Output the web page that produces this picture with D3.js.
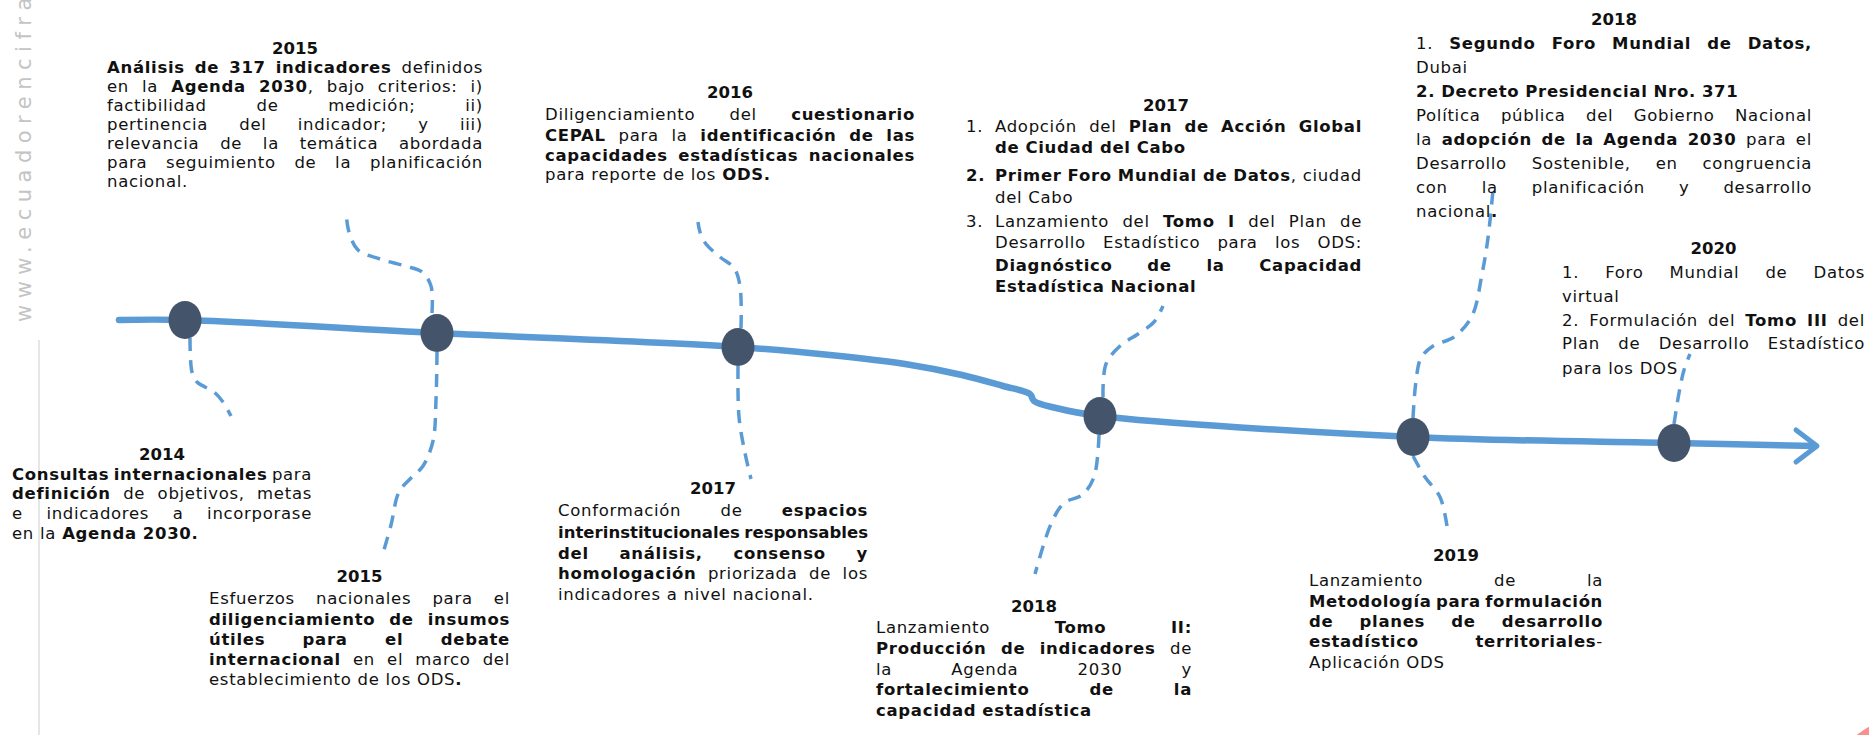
<!DOCTYPE html>
<html>
<head>
<meta charset="utf-8">
<script src="https://cdn.jsdelivr.net/npm/d3@7"></script>
<style>
  html, body { margin: 0; padding: 0; background: #fff; }
  svg { display: block; }
  text { font-family: "Century Gothic", "DejaVu Sans", sans-serif; }
</style>
</head>
<body>
<div id="chart"></div>
<script>
// ---- DATA ----
// milestones on the time line (left to right)
const milestones = ["2014", "2015", "2016", "2017", "2018", "2020"];

// text blocks: year + lines ("**" toggles bold, "~" = last line of a paragraph, "\t" splits list number)
const blockYears = ["2015", "2016", "2017", "2018", "2020", "2014", "2015", "2017", "2018", "2019"];

const text2015top = [
  "**Análisis de 317 indicadores** definidos",
  "en la **Agenda 2030**, bajo criterios: i)",
  "factibilidad de medición; ii)",
  "pertinencia del indicador; y iii)",
  "relevancia de la temática abordada",
  "para seguimiento de la planificación",
  "~nacional."
];
const text2016 = [
  "Diligenciamiento del **cuestionario**",
  "**CEPAL** para la **identificación de las**",
  "**capacidades estadísticas nacionales**",
  "~para reporte de los **ODS.**"
];
const text2017top = [
  "1.\tAdopción del **Plan de Acción Global**",
  "~\t**de Ciudad del Cabo**",
  "**2.**\t**Primer Foro Mundial de Datos**, ciudad",
  "~\tdel Cabo",
  "3.\tLanzamiento del **Tomo I** del Plan de",
  "\tDesarrollo Estadístico para los ODS:",
  "\t**Diagnóstico de la Capacidad**",
  "~\t**Estadística Nacional**"
];
const text2018top = [
  "1. **Segundo Foro Mundial de Datos,**",
  "~Dubai",
  "~**2. Decreto Presidencial Nro. 371**",
  "Política pública del Gobierno Nacional",
  "la **adopción de la Agenda 2030** para el",
  "Desarrollo Sostenible, en congruencia",
  "con la planificación y desarrollo",
  "~nacional**.**"
];
const text2020 = [
  "1. Foro Mundial de Datos",
  "~virtual",
  "2. Formulación del **Tomo III** del",
  "Plan de Desarrollo Estadístico",
  "~para los DOS"
];
const text2014 = [
  "**Consultas internacionales** para",
  "**definición** de objetivos, metas",
  "e indicadores a incorporase",
  "~en la **Agenda 2030.**"
];
const text2015bottom = [
  "Esfuerzos nacionales para el",
  "**diligenciamiento de insumos**",
  "**útiles para el debate**",
  "**internacional** en el marco del",
  "~establecimiento de los ODS**.**"
];
const text2017bottom = [
  "Conformación de **espacios**",
  "**interinstitucionales responsables**",
  "**del análisis, consenso y**",
  "**homologación** priorizada de los",
  "~indicadores a nivel nacional."
];
const text2018bottom = [
  "Lanzamiento **Tomo II:**",
  "**Producción de indicadores** de",
  "la Agenda 2030 y",
  "**fortalecimiento de la**",
  "~**capacidad estadística**"
];
const text2019 = [
  "Lanzamiento de la",
  "**Metodología para formulación**",
  "**de planes de desarrollo**",
  "**estadístico territoriales**-",
  "~Aplicación ODS"
];
const blockTexts = [text2015top, text2016, text2017top, text2018top, text2020,
                    text2014, text2015bottom, text2017bottom, text2018bottom, text2019];

// ---- LAYOUT ----
const width = 1869, height = 735;
const fontSize = 16.5, letterSp = 0.7;

// node centres on the line
const nodeX = [185, 437, 738, 1100, 1413, 1674];
const nodeY = [320, 333, 347, 416, 437, 443];

// extra shaping points of the time line
const lineX = [119, 185, 437, 738, 830, 905, 962, 1003, 1030, 1034, 1056, 1100, 1413, 1674, 1815];
const lineY = [320, 320, 333, 347, 355, 364, 375, 386, 394, 401, 408, 416, 437, 443, 446];

// dashed connectors (x list, y list)
const connectors = [
  [[190, 192, 197, 205, 214, 223, 231], [338, 372, 382, 387, 392, 402, 416]],
  [[432, 431, 422, 405, 380, 358, 349, 346], [313, 286, 272, 266, 259, 250, 232, 212]],
  [[437, 436, 433, 423, 411, 399, 391, 384], [352, 400, 441, 466, 478, 492, 525, 550]],
  [[741, 740, 734, 720, 706, 700, 698], [328, 286, 268, 257, 244, 232, 222]],
  [[738, 739, 745, 751], [366, 417, 453, 479]],
  [[1103, 1106, 1120, 1138, 1154, 1163], [397, 364, 346, 334, 322, 306]],
  [[1099, 1094, 1082, 1064, 1051, 1035], [435, 477, 495, 503, 524, 574]],
  [[1413, 1416, 1421, 1433, 1454, 1472, 1482, 1488, 1493], [418, 381, 358, 346, 337, 316, 274, 238, 190]],
  [[1413, 1425, 1440, 1447], [456, 477, 497, 526]],
  [[1674, 1679, 1684, 1690], [424, 393, 370, 354]]
];

// text block geometry: left, right, year y, list-number x, line centres
const blocks = [
  {x0: 107,  x1: 483,  yy: 48,  ly: [67, 86, 105, 124, 143, 162, 181]},
  {x0: 545,  x1: 915,  yy: 92,  ly: [114, 135, 155, 174]},
  {x0: 995,  x1: 1362, yy: 105, nx: 966, yc: 1166, ly: [126, 147, 175, 197, 221, 242, 265, 286]},
  {x0: 1416, x1: 1812, yy: 19,  ly: [43, 67, 91, 115, 139, 163, 187, 211]},
  {x0: 1562, x1: 1865, yy: 248, ly: [272, 296, 320, 343, 368]},
  {x0: 12,   x1: 312,  yy: 454, ly: [474, 493, 513, 533]},
  {x0: 209,  x1: 510,  yy: 576, ly: [598, 619, 639, 659, 679]},
  {x0: 558,  x1: 868,  yy: 488, ly: [510, 532, 553, 573, 594]},
  {x0: 876,  x1: 1192, yy: 606, ly: [627, 648, 669, 689, 710, 731]},
  {x0: 1309, x1: 1603, yy: 555, ly: [580, 601, 621, 641, 662]}
];

const lineColor = "#5B9BD5", nodeColor = "#44546A", textColor = "#111";

// ---- SVG ----
let svg = d3.select("#chart").append("svg")
    .attr("width", width)
    .attr("height", height);

// watermark + thin guide on the left
svg.append("text")
    .attr("transform", "translate(31,322) rotate(-90)")
    .attr("font-size", 21)
    .attr("fill", "#c4c4c4")
    .style("letter-spacing", "6.5px")
    .text("www.ecuadorencifras");

svg.append("line")
    .attr("x1", 39).attr("x2", 39)
    .attr("y1", 340).attr("y2", height)
    .attr("stroke", "#dedede")
    .attr("stroke-width", 1.5);

// pink corner decoration
svg.append("circle")
    .attr("cx", 1930).attr("cy", 830).attr("r", 120)
    .attr("fill", "#f89090");

// dashed connectors
let curve = d3.line().curve(d3.curveCatmullRom.alpha(0.5));

svg.selectAll(".connector")
    .data(connectors)
    .enter()
    .append("path")
    .attr("class", "connector")
    .attr("d", c => curve(c[0].map((x, i) => [x, c[1][i]])))
    .attr("fill", "none")
    .attr("stroke", lineColor)
    .attr("stroke-width", 3.5)
    .attr("stroke-dasharray", "13,9");

// main time line
svg.append("path")
    .attr("d", curve(lineX.map((x, i) => [x, lineY[i]])))
    .attr("fill", "none")
    .attr("stroke", lineColor)
    .attr("stroke-width", 6.5)
    .attr("stroke-linecap", "round");

// arrow head
let tipX = lineX[lineX.length - 1], tipY = lineY[lineY.length - 1];
svg.append("path")
    .attr("d", d3.line()([[tipX - 19, tipY - 16], [tipX + 2, tipY], [tipX - 19, tipY + 16]]))
    .attr("fill", "none")
    .attr("stroke", lineColor)
    .attr("stroke-width", 5)
    .attr("stroke-linecap", "round")
    .attr("stroke-linejoin", "round");

// nodes
svg.selectAll(".node")
    .data(milestones)
    .enter()
    .append("ellipse")
    .attr("class", "node")
    .attr("cx", (d, i) => nodeX[i])
    .attr("cy", (d, i) => nodeY[i])
    .attr("rx", 16.5)
    .attr("ry", 19)
    .attr("fill", nodeColor);

// ---- TEXT ----
function parseLine(str) {
    let words = [], cur = null, fresh = true;
    str.split("**").forEach((seg, si) => {
        let bold = si % 2 === 1;
        seg.split(/(\s+)/).forEach(tok => {
            if (tok === "") return;
            if (/^\s+$/.test(tok)) { fresh = true; return; }
            if (fresh || !cur) { cur = []; words.push(cur); fresh = false; }
            cur.push({t: tok, b: bold});
        });
    });
    return words;
}

function drawRich(g, str, x0, x1, y, justify) {
    let words = parseLine(str);
    let t = g.append("text")
        .attr("y", y + 6)
        .attr("font-size", fontSize)
        .attr("fill", textColor)
        .style("letter-spacing", letterSp + "px");
    let wInfo = words.map(runs => ({
        spans: runs.map(r => t.append("tspan")
            .attr("font-weight", r.b ? "bold" : "normal")
            .text(r.t))
    }));
    let measure = () => wInfo.forEach(d => {
        d.w = d3.sum(d.spans, s => s.node().getComputedTextLength());
    });
    measure();
    let total = d3.sum(wInfo, d => d.w);
    let nChars = str.replace(/\*\*|\s/g, "").length;
    let minGap = 4.5 * (words.length - 1);
    if (justify && total + minGap > x1 - x0) {
        // squeeze the letter spacing so the line fits its column
        let ls = letterSp - (total + minGap - (x1 - x0)) / nChars;
        t.style("letter-spacing", ls + "px");
        measure();
        total = d3.sum(wInfo, d => d.w);
    }
    let gap = (justify && words.length > 1) ? (x1 - x0 - total) / (words.length - 1) : 6;
    let x = x0;
    wInfo.forEach(d => {
        d.spans[0].attr("x", x);
        x += d.w + gap;
    });
}

blocks.forEach((b, bi) => {
    let g = svg.append("g").attr("class", "block");
    let yc = b.yc !== undefined ? b.yc : (b.x0 + b.x1) / 2;
    g.append("text")
        .attr("x", yc)
        .attr("y", b.yy + 6)
        .attr("text-anchor", "middle")
        .attr("font-size", fontSize)
        .attr("font-weight", "bold")
        .attr("fill", textColor)
        .text(blockYears[bi]);

    blockTexts[bi].forEach((line, li) => {
        let justify = true;
        if (line.startsWith("~")) { justify = false; line = line.slice(1); }
        let num = null;
        if (line.includes("\t")) {
            let parts = line.split("\t");
            num = parts[0];
            line = parts[1];
        }
        if (num) drawRich(g, num, b.nx, b.nx + 20, b.ly[li], false);
        drawRich(g, line, b.x0, b.x1, b.ly[li], justify);
    });
});
</script>
</body>
</html>
